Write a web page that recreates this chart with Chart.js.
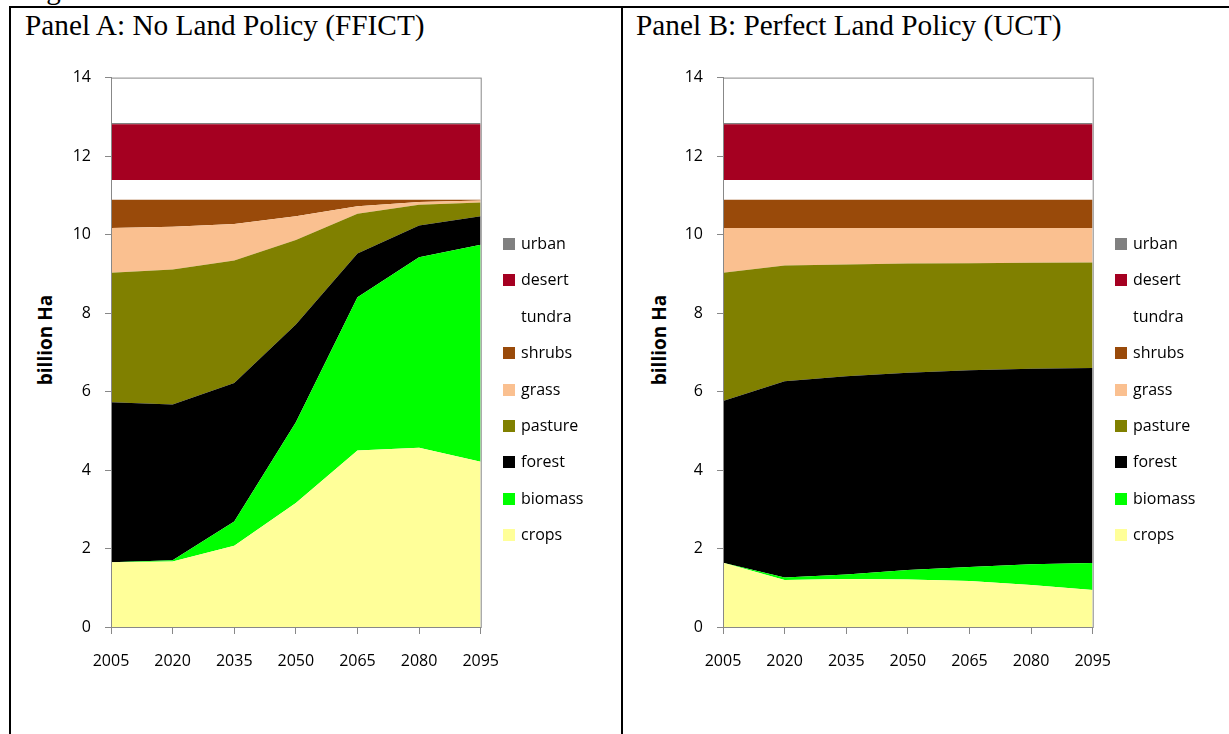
<!DOCTYPE html>
<html>
<head>
<meta charset="utf-8">
<script src="https://cdn.jsdelivr.net/npm/chart.js@4.4.1/dist/chart.umd.min.js"></script>
<style>
  body { margin: 0; background: #fff; width: 1229px; height: 734px; overflow: hidden; position: relative; font-family: "Open Sans", sans-serif; }
  .frame { position: absolute; left: 9px; top: 6px; width: 1240px; height: 740px; border-left: 2px solid #000; border-top: 2px solid #000; }
  .divider { position: absolute; left: 621px; top: 6px; width: 2px; height: 740px; background: #000; }
  .fig { position: absolute; left: 22px; top: -27px; font-family: "Liberation Serif", serif; font-size: 29px; }
  .title { position: absolute; top: 9px; font-family: "Liberation Serif", serif; font-size: 29.3px; color: #000; white-space: nowrap; }
  .ytitle { position: absolute; font-family: "Open Sans", sans-serif; font-weight: bold; font-size: 19px; transform: translate(-50%, -50%) rotate(-90deg); white-space: nowrap; }
  .box { position: absolute; }
  .legend { position: absolute; font-size: 16px; color: #000; }
  .legend div { position: absolute; white-space: nowrap; }
  .legend span.sw { position: absolute; width: 12px; height: 12px; }
</style>
</head>
<body>
<div class="fig">Figure 3</div>
<div class="frame"></div>
<div class="divider"></div>

<div class="title" style="left:25px">Panel A: No Land Policy (FFICT)</div>
<div class="title" style="left:636px">Panel B: Perfect Land Policy (UCT)</div>

<div class="ytitle" style="left:45px; top:340px">billion Ha</div>
<div class="ytitle" style="left:659px; top:340px">billion Ha</div>

<div class="box" style="left:20px; top:54px; width:497px; height:618px"><canvas id="chartA"></canvas></div>
<div class="box" style="left:632px; top:54px; width:497px; height:618px"><canvas id="chartB"></canvas></div>

<div class="legend" id="legendA" style="left:503px; top:0px"></div>
<div class="legend" id="legendB" style="left:1115px; top:0px"></div>

<script>
// years on the x axis
const years = ['2005', '2020', '2035', '2050', '2065', '2080', '2095'];

// land use names, bottom of the stack first
const landTypes = ['crops', 'biomass', 'forest', 'pasture', 'grass', 'shrubs', 'tundra', 'desert', 'urban'];
const landColors = ['#FFFF99', '#00FF00', '#000000', '#808000', '#FAC090', '#994A0A', '#FFFFFF', '#A50021', '#808080'];

// Panel A - no land policy (billion Ha)
const cropsA   = [1.65, 1.67, 2.07, 3.16, 4.50, 4.57, 4.21];
const biomassA = [0.00, 0.03, 0.62, 2.06, 3.90, 4.85, 5.53];
const forestA  = [4.08, 3.97, 3.53, 2.49, 1.12, 0.81, 0.73];
const pastureA = [3.30, 3.44, 3.12, 2.15, 1.01, 0.53, 0.35];
const grassA   = [1.14, 1.09, 0.93, 0.61, 0.19, 0.07, 0.05];
const shrubsA  = [0.72, 0.69, 0.62, 0.42, 0.17, 0.06, 0.02];
const tundraA  = [0.50, 0.50, 0.50, 0.50, 0.50, 0.50, 0.50];
const desertA  = [1.42, 1.42, 1.42, 1.42, 1.42, 1.42, 1.42];
const urbanA   = [0.03, 0.03, 0.03, 0.03, 0.03, 0.03, 0.03];

// Panel B - perfect land policy (billion Ha)
const cropsB   = [1.64, 1.20, 1.22, 1.21, 1.17, 1.07, 0.94];
const biomassB = [0.00, 0.06, 0.12, 0.24, 0.36, 0.53, 0.69];
const forestB  = [4.12, 5.00, 5.05, 5.03, 5.01, 4.98, 4.97];
const pastureB = [3.27, 2.95, 2.85, 2.78, 2.73, 2.70, 2.69];
const grassB   = [1.14, 0.96, 0.93, 0.91, 0.90, 0.89, 0.88];
const shrubsB  = [0.72, 0.72, 0.72, 0.72, 0.72, 0.72, 0.72];
const tundraB  = [0.50, 0.50, 0.50, 0.50, 0.50, 0.50, 0.50];
const desertB  = [1.42, 1.42, 1.42, 1.42, 1.42, 1.42, 1.42];
const urbanB   = [0.03, 0.03, 0.03, 0.03, 0.03, 0.03, 0.03];

const seriesA = [cropsA, biomassA, forestA, pastureA, grassA, shrubsA, tundraA, desertA, urbanA];
const seriesB = [cropsB, biomassB, forestB, pastureB, grassB, shrubsB, tundraB, desertB, urbanB];

Chart.defaults.font.family = '"Open Sans", sans-serif';
Chart.defaults.font.size = 16;
Chart.defaults.color = '#000';

// grey box round the plot area
const plotBorder = {
  id: 'plotBorder',
  afterDraw(chart) {
    const a = chart.chartArea;
    const c = chart.ctx;
    c.save();
    c.strokeStyle = '#888';
    c.lineWidth = 1;
    c.strokeRect(a.left + 0.5, a.top + 0.5, a.right - a.left, a.bottom - a.top);
    c.restore();
  }
};

function makeDatasets(series) {
  var sets = [];
  for (var i = 0; i < series.length; i++) {
    sets.push({
      label: landTypes[i],
      data: series[i],
      backgroundColor: landColors[i],
      borderWidth: 0,
      pointRadius: 0,
      tension: 0,
      fill: i == 0 ? 'origin' : '-1'
    });
  }
  return sets;
}

function makeChart(id, series) {
  return new Chart(document.getElementById(id), {
    type: 'line',
    data: {
      labels: years,
      datasets: makeDatasets(series)
    },
    options: {
      responsive: true,
      maintainAspectRatio: false,
      animation: false,
      layout: { padding: { top: 11, right: 6, left: 0, bottom: 0 } },
      plugins: {
        legend: { display: false },
        tooltip: { enabled: false }
      },
      scales: {
        x: {
          offset: false,
          grid: { drawOnChartArea: false, drawTicks: true, tickLength: 7, color: '#888' },
          border: { color: '#888' },
          ticks: { padding: 18, maxRotation: 0, font: { size: 16 } },
          afterFit: function (s) { s.height = 45; }
        },
        y: {
          stacked: true,
          min: 0,
          max: 14,
          ticks: { stepSize: 2, padding: 14, font: { size: 16 } },
          grid: { drawOnChartArea: false, drawTicks: true, tickLength: 6, color: '#888' },
          border: { color: '#888' },
          afterFit: function (s) { s.width = 91; }
        }
      }
    },
    plugins: [plotBorder]
  });
}

function buildLegend(id) {
  var el = document.getElementById(id);
  var html = '';
  var row = 0;
  for (var i = landTypes.length - 1; i >= 0; i--) {
    var y = 244 + row * 36.4;
    if (landTypes[i] != 'tundra') {
      html += '<span class="sw" style="left:0px; top:' + (y - 6) + 'px; background:' + landColors[i] + '"></span>';
    }
    html += '<div style="left:18px; top:' + (y - 12) + 'px">' + landTypes[i] + '</div>';
    row++;
  }
  el.innerHTML = html;
}

makeChart('chartA', seriesA);
makeChart('chartB', seriesB);
buildLegend('legendA');
buildLegend('legendB');
</script>
</body>
</html>
